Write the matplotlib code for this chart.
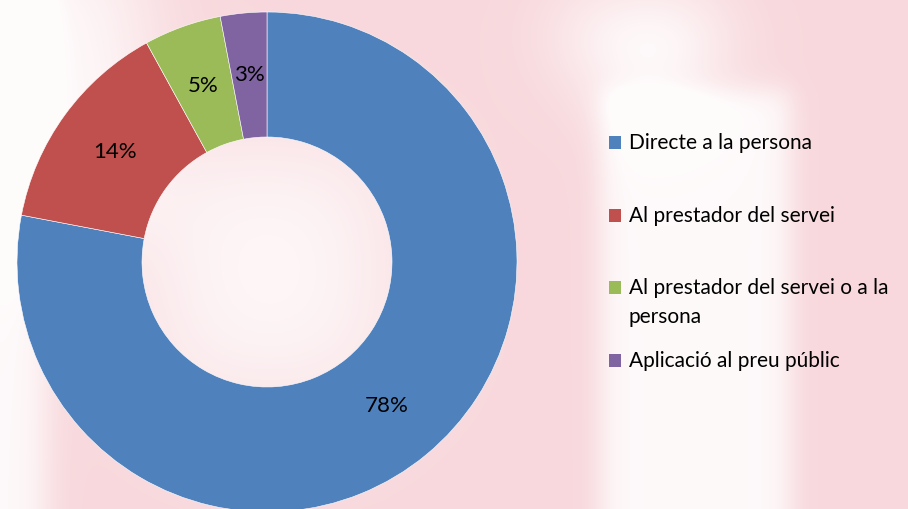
import numpy as np
import matplotlib
matplotlib.use("Agg")
import matplotlib.pyplot as plt
from matplotlib.patches import Rectangle

categories = ["Directe a la persona", "Al prestador del servei",
              "Al prestador del servei o a la\npersona", "Aplicació al preu públic"]
values = [78, 14, 5, 3]
colors = ["#4F81BD", "#C0504D", "#9BBB59", "#8064A2"]

W, H = 908, 509
fig = plt.figure(figsize=(W / 100, H / 100), dpi=100)
plt.rcParams['font.family'] = ['Lato', 'DejaVu Sans']


# soft pink watermark in the background
def soft_box(xx, yy, x0, x1, y0, y1, s):
    fx = 1 / (1 + np.exp(-(xx - x0) / s)) * 1 / (1 + np.exp((xx - x1) / s))
    fy = 1 / (1 + np.exp(-(yy - y0) / s)) * 1 / (1 + np.exp((yy - y1) / s))
    return fx * fy

yy, xx = np.mgrid[0:H, 0:W]
pink = np.ones((H, W))
for box in [(600, 790, 90, 600, 8), (600, 700, 30, 110, 25), (-50, 45, -50, 600, 10),
            (-50, 140, -50, 240, 25), (150, 390, 140, 400, 35), (560, 720, 0, 60, 25)]:
    pink -= 0.85 * soft_box(xx, yy, *box)
pink = np.clip(pink, 0.1, 1)
base = np.array([248, 216, 220]) / 255.0
img = 1 - pink[..., None] * (1 - base)
bg = fig.add_axes([0, 0, 1, 1])
bg.imshow(img, extent=[0, W, H, 0], aspect='auto')
bg.set_axis_off()

ax = fig.add_axes([(267 - 250) / W, (H - 262 - 250) / H, 500 / W, 500 / H])
wedges, texts, autotexts = ax.pie(values, colors=colors, startangle=90, counterclock=False,
                                  radius=1, autopct='%d%%', pctdistance=0.75,
                                  wedgeprops=dict(width=0.5, edgecolor='white', linewidth=0.4),
                                  textprops=dict(fontsize=16, color='black'))
ax.set_xlim(-1, 1)
ax.set_ylim(-1, 1)
ax.set_aspect('equal')
ax.set_axis_off()

# legend, drawn by hand (marker aligned with first line)
leg_y = [143, 216, 288, 361]
for lab, col, y in zip(categories, colors, leg_y):
    fig.patches.append(Rectangle((609 / W, 1 - (y + 6) / H), 12 / W, 13 / H,
                                 transform=fig.transFigure, facecolor=col, edgecolor='none'))
    if '\n' in lab:
        fig.text(629 / W, 1 - (y - 10) / H, lab, fontsize=15, va='top', ha='left',
                 linespacing=1.55)
    else:
        fig.text(629 / W, 1 - y / H, lab, fontsize=15, va='center', ha='left')

fig.savefig("out.png", dpi=100)
